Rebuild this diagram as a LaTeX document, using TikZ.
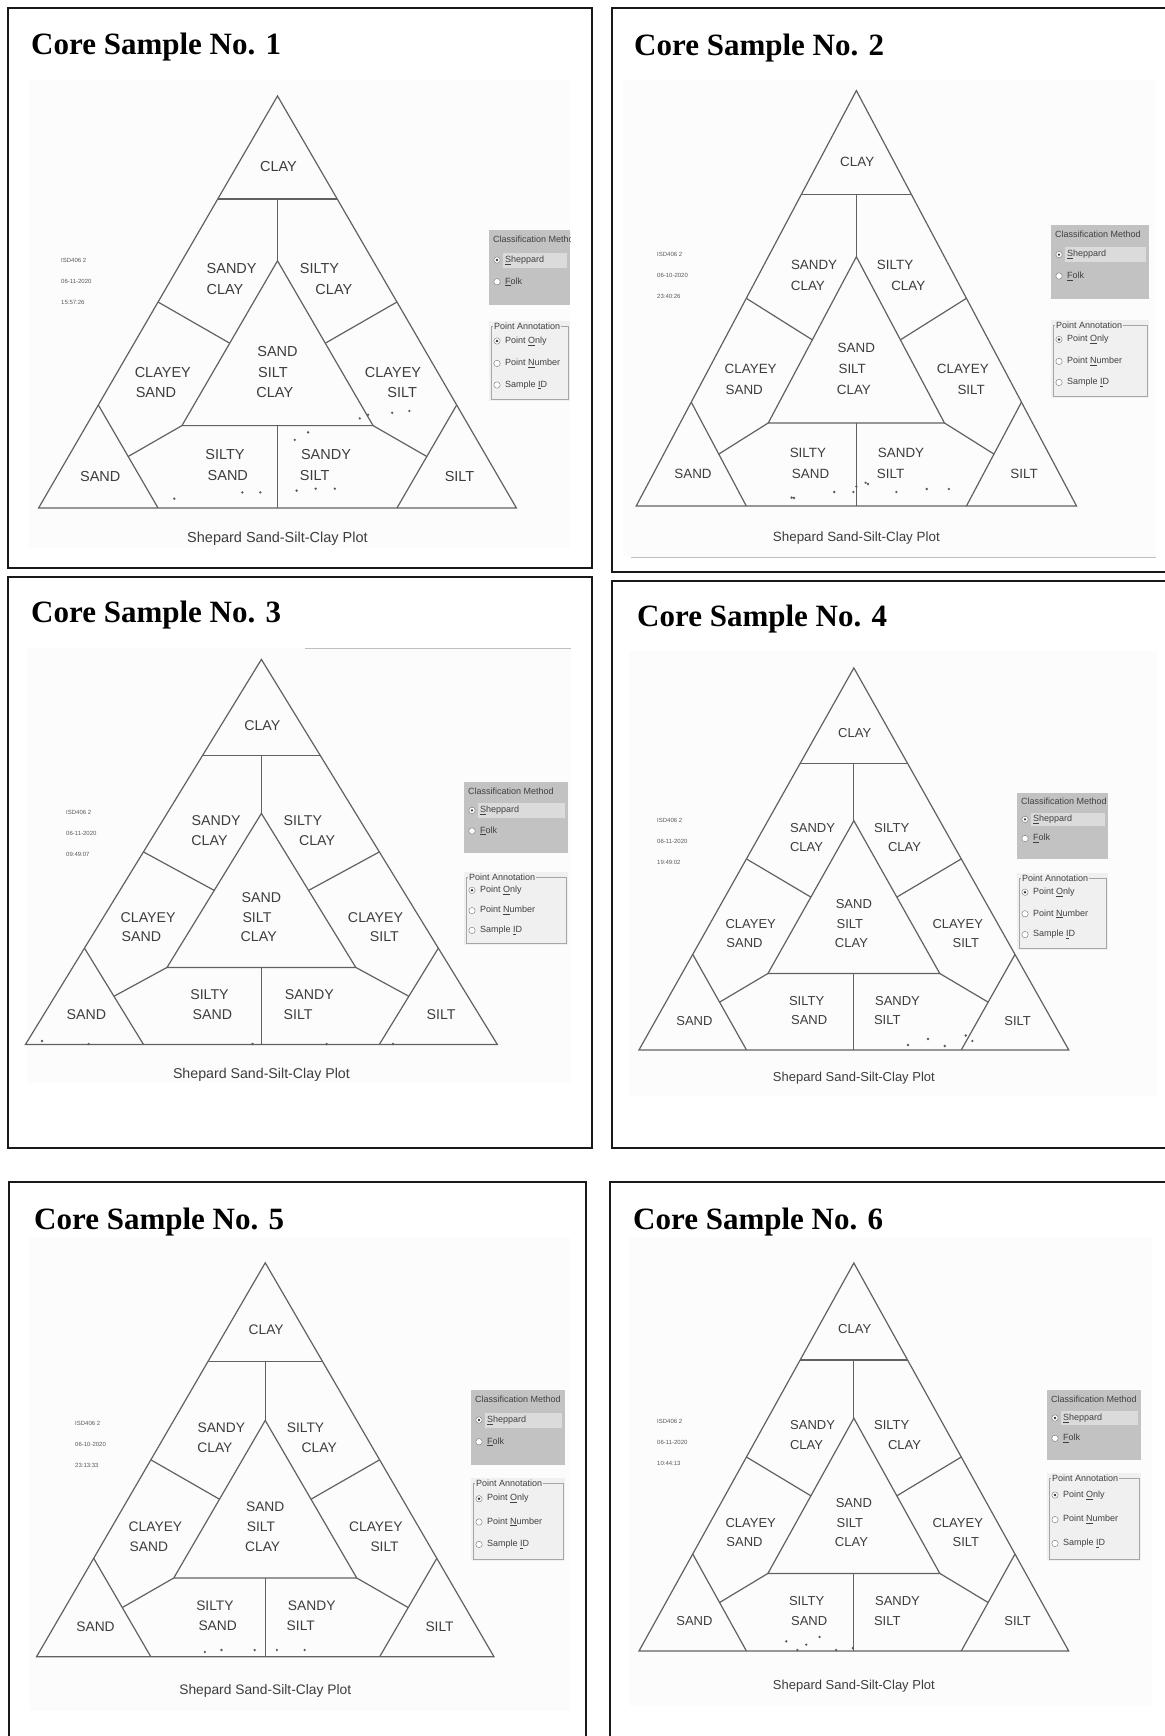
\documentclass[tikz,border=0pt]{standalone}
\usepackage{fontspec}
\setmainfont{Liberation Serif}
\newfontfamily\arialf{Liberation Sans}
\tikzset{
  frame/.style={draw=black!90, line width=2pt},
  shot/.style={fill=black!1.2, draw=none},
  tri/.style={draw=black!62, line width=1.2pt, line join=miter},
  lab/.style={font=\arialf\fontsize{\curfs}{\curfs}\selectfont, text=black!76, inner sep=0pt, align=center},
  capt/.style={font=\arialf\fontsize{\curfs}{\curfs}\selectfont, text=black!76, inner sep=0pt},
  ttl/.style={font=\bfseries\fontsize{31}{31}\selectfont, anchor=base west, inner sep=0pt},
  tinyt/.style={font=\arialf\fontsize{6}{6}\selectfont, text=black!65, anchor=west, inner sep=0pt},
  boxt/.style={font=\arialf\fontsize{9}{9}\selectfont, text=black!75, anchor=west, inner sep=0pt},
  dot/.style={fill=black!65},
}
% Shepard ternary plot: #1 prefix, #2 BLx, #3 BLy, #4 width, #5 height, #6 font size, #7 caption offset
\newcommand{\shep}[7]{%
\def\curfs{#6}%
\begin{scope}[shift={(#2pt,-#3pt)}, x={(#4pt,0pt)}, y={(0pt,#5pt)}]
  \coordinate (#1-sa) at (0,0);
  \coordinate (#1-si) at (1,0);
  \coordinate (#1-cl) at (0.5,1);
  \draw[tri] (#1-sa) -- (#1-si) -- (#1-cl) -- cycle;
  \draw[tri] (0.375,0.75) -- (0.625,0.75);
  \draw[tri] (0.25,0) -- (0.125,0.25);
  \draw[tri] (0.75,0) -- (0.875,0.25);
  \draw[tri] (0.3,0.2) -- (0.7,0.2) -- (0.5,0.6) -- cycle;
  \draw[tri] (0.5,0.75) -- (0.5,0.6);
  \draw[tri] (0.5,0.2) -- (0.5,0);
  \draw[tri] (0.25,0.5) -- (0.4,0.4);
  \draw[tri] (0.75,0.5) -- (0.6,0.4);
  \draw[tri] (0.1875,0.125) -- (0.3,0.2);
  \draw[tri] (0.8125,0.125) -- (0.7,0.2);
  \node[lab] (#1-l1) at (0.502,0.829) {CLAY};
  \node[lab] (#1-l2) at (0.404,0.5815) {SANDY};
  \node[lab] (#1-l3) at (0.390,0.530) {CLAY};
  \node[lab] (#1-l4) at (0.588,0.5815) {SILTY};
  \node[lab] (#1-l5) at (0.618,0.530) {CLAY};
  \node[lab] (#1-l6) at (0.500,0.381) {SAND};
  \node[lab] (#1-l7) at (0.4906,0.330) {SILT};
  \node[lab] (#1-l8) at (0.4944,0.2806) {CLAY};
  \node[lab] (#1-l9) at (0.260,0.330) {CLAYEY};
  \node[lab] (#1-l10) at (0.2455,0.2806) {SAND};
  \node[lab] (#1-l11) at (0.7418,0.330) {CLAYEY};
  \node[lab] (#1-l12) at (0.7608,0.2806) {SILT};
  \node[lab] (#1-l13) at (0.390,0.129) {SILTY};
  \node[lab] (#1-l14) at (0.396,0.078) {SAND};
  \node[lab] (#1-l15) at (0.6015,0.129) {SANDY};
  \node[lab] (#1-l16) at (0.5777,0.078) {SILT};
  \node[lab] (#1-l17) at (0.129,0.0765) {SAND};
  \node[lab] (#1-l18) at (0.881,0.0765) {SILT};
  \node[capt] (#1-cap) at (0.5,0) [yshift=-#7pt] {Shepard Sand-Silt-Clay Plot};
\end{scope}}
% side boxes: #1 prefix, #2 x0, #3 x1, #4 ya, #5 yb, #6 yc, #7 yd
\newcommand{\sidebox}[7]{%
\begin{scope}
  \clip (#2,#4) rectangle (#3,#7);
  \fill[black!24] (#2,#4) rectangle (#3,#5);
  \fill[black!14] (#2+14,{#4+0.30*(#5-#4)}) rectangle (#3-3,{#4+0.50*(#5-#4)});
  \node[boxt] (#1-ct) at (#2+4,{#4+0.13*(#5-#4)}) {Classification Method};
  \draw[black!55, fill=white] (#2+8,{#4+0.40*(#5-#4)}) circle (3.2);
  \fill[black!80] (#2+8,{#4+0.40*(#5-#4)}) circle (1.3);
  \node[boxt] (#1-c1) at (#2+16,{#4+0.40*(#5-#4)}) {\underline{S}heppard};
  \draw[black!55, fill=white] (#2+8,{#4+0.69*(#5-#4)}) circle (3.2);
  \node[boxt] (#1-c2) at (#2+16,{#4+0.69*(#5-#4)}) {\underline{F}olk};
  \fill[black!6] (#2,#6) rectangle (#3,#7);
  \draw[black!35] (#2+2,{#6+5}) rectangle (#3-2,#7-2);
  \node[boxt, fill=black!6, inner xsep=1pt] (#1-pt) at (#2+4,{#6+5}) {Point Annotation};
  \draw[black!55, fill=white] (#2+8,{#6+0.25*(#7-#6)}) circle (3.2);
  \fill[black!80] (#2+8,{#6+0.25*(#7-#6)}) circle (1.3);
  \node[boxt] (#1-p1) at (#2+16,{#6+0.25*(#7-#6)}) {Point \underline{O}nly};
  \draw[black!55, fill=white] (#2+8,{#6+0.53*(#7-#6)}) circle (3.2);
  \node[boxt] (#1-p2) at (#2+16,{#6+0.53*(#7-#6)}) {Point \underline{N}umber};
  \draw[black!55, fill=white] (#2+8,{#6+0.80*(#7-#6)}) circle (3.2);
  \node[boxt] (#1-p3) at (#2+16,{#6+0.80*(#7-#6)}) {Sample \underline{I}D};
\end{scope}}
% date stamp: #1 prefix, #2 x, #3 y, #4 line1, #5 line2, #6 line3
\newcommand{\stamp}[6]{%
  \node[tinyt] (#1-s1) at (#2,#3) {#4};
  \node[tinyt] (#1-s2) at (#2,#3+21) {#5};
  \node[tinyt] (#1-s3) at (#2,#3+42) {#6};}
\begin{document}
\begin{tikzpicture}[x=1pt, y=-1pt]
\useasboundingbox (0,0) rectangle (1164,1736);
\fill[white] (0,0) rectangle (1164,1736);
% screenshot backgrounds
\fill[shot] (29,80) rectangle (570,548);
\fill[shot] (623,80) rectangle (1156,557);
\fill[shot] (27,648) rectangle (571,1083);
\fill[shot] (629,651) rectangle (1157,1096);
\fill[shot] (29,1237) rectangle (570,1711);
\fill[shot] (629,1237) rectangle (1152,1706);
\draw[black!25] (631,557) -- (1156,557);
\draw[black!25] (305,648) -- (571,648);
% frames
\draw[frame] (8,8) rectangle (592,568);
\draw[frame] (1166,8) -- (612,8) -- (612,572) -- (1166,572);
\draw[frame] (8,577) rectangle (592,1148);
\draw[frame] (1166,581) -- (612,581) -- (612,1148) -- (1166,1148);
\draw[frame] (9,1740) -- (9,1182) -- (586,1182) -- (586,1740);
\draw[frame] (610,1740) -- (610,1182) -- (1166,1182);
% titles
\node[ttl] (t1) at (31,55) {Core Sample No. 1};
\node[ttl] (t2) at (634,56) {Core Sample No. 2};
\node[ttl] (t3) at (31,622) {Core Sample No. 3};
\node[ttl] (t4) at (637,626) {Core Sample No. 4};
\node[ttl] (t5) at (34,1229) {Core Sample No. 5};
\node[ttl] (t6) at (633,1229) {Core Sample No. 6};
% plots
\shep{a}{38.6}{508}{477.8}{412}{14.5}{31}
\shep{b}{636.2}{506}{440.3}{415.4}{13.4}{32}
\shep{c}{25.5}{1044.4}{471.8}{385}{14.2}{30}
\shep{d}{639}{1049.9}{429.7}{382}{13}{28}
\shep{e}{36.5}{1656.8}{457.5}{394}{13.8}{34}
\shep{f}{639}{1651}{429.7}{388}{13}{35}
% side boxes
\sidebox{a}{489}{570}{230}{305}{321}{401}
\sidebox{b}{1051}{1149}{225}{299}{320}{398}
\sidebox{c}{464}{568}{782}{853}{872}{945}
\sidebox{d}{1017}{1108}{793}{859}{873}{950}
\sidebox{e}{471}{565}{1390}{1465}{1478}{1561}
\sidebox{f}{1047}{1141}{1390}{1460}{1473}{1561}
% stamps
\stamp{a}{61}{260}{ISD406 2}{06-11-2020}{15:57:26}
\stamp{b}{657}{254}{ISD406 2}{06-10-2020}{23:40:26}
\stamp{c}{66}{812}{ISD406 2}{06-11-2020}{09:49:07}
\stamp{d}{657}{820}{ISD406 2}{06-11-2020}{19:49:02}
\stamp{e}{75}{1423}{ISD406 2}{06-10-2020}{23:13:33}
\stamp{f}{657}{1421}{ISD406 2}{06-11-2020}{10:44:13}
% data points
\foreach \p in {(174.3,498.7),(242.3,492.4),(260.3,492.4),(296.6,490.6),(315.7,488.7),(334.8,488.7),(294.7,439.9),(308.1,432.4),(359.7,418.4),(368.1,414.7),(392.2,412.8),(409.4,411)}
  \fill[dot] \p circle (1.3);
\foreach \p in {(791.6,497.6),(794,498),(834.2,492),(853.4,492),(856.4,486.5),(865.6,482.8),(868,484),(896.3,492),(926.7,489),(948.9,489)}
  \fill[dot] \p circle (1.3);
\foreach \p in {(42,1041),(88.6,1044),(252.5,1044),(326.7,1044),(393,1044)}
  \fill[dot] \p circle (1.3);
\foreach \p in {(908,1045),(928,1039),(944.7,1046),(965.7,1035.5),(972.4,1041)}
  \fill[dot] \p circle (1.3);
\foreach \p in {(204.9,1652),(221.5,1650),(254.7,1650),(276.9,1650),(304.6,1650)}
  \fill[dot] \p circle (1.3);
\foreach \p in {(786.3,1641.3),(797.4,1650),(806.3,1644.6),(819.6,1636.9),(836.2,1650),(852.8,1648)}
  \fill[dot] \p circle (1.3);
\end{tikzpicture}
\end{document}
